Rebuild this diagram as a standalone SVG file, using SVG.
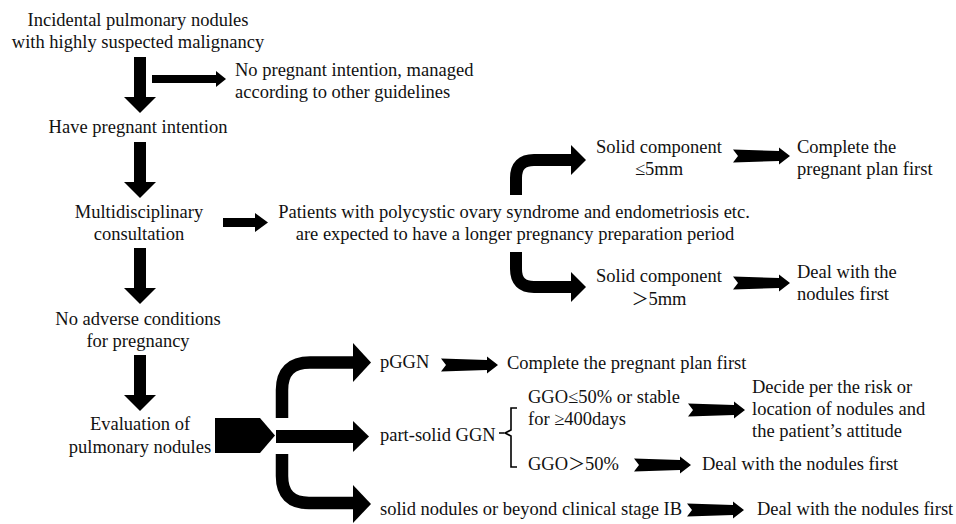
<svg xmlns="http://www.w3.org/2000/svg" width="956" height="524" viewBox="0 0 956 524">
<style>
text{font-family:"Liberation Serif","Times New Roman",serif;font-size:18.5px;fill:#111;}
.c{text-anchor:middle;}
.j{font-family:"Noto Sans CJK SC",sans-serif;font-size:17px;}
.f{fill:#000;stroke:none;}
.s{fill:none;stroke:#000;}
</style>
<defs>
<polygon id="chev" points="0,-6.5 46,-5 46,-8.5 57,0 46,8.5 46,5 0,6.5 5,0"/>
<g id="down"><polygon points="-6,0 6,0 6,40 16,40 0,56 -16,40 -6,40"/></g>
</defs>
<rect width="956" height="524" fill="#fff"/>
<g id="connectors" class="f">
<use href="#down" x="140" y="57"/>
<use href="#down" x="140" y="142"/>
<use href="#down" x="140" y="248"/>
<use href="#down" x="140" y="355"/>
<polygon points="152,75 216,75 216,71 226,79 216,87 216,83 152,83"/>
<polygon points="223,218 255,218 255,213 268,222.5 255,232 255,227 223,227"/>
<path class="s" stroke-width="12" d="M516 195 V178 Q516 160 534 160 H572"/>
<polygon points="571,145 586,160 571,175"/>
<path class="s" stroke-width="12" d="M516 252 V269 Q516 287 534 287 H572"/>
<polygon points="571,272 586,287 571,302"/>
<use href="#chev" x="733" y="156"/>
<use href="#chev" x="733" y="283"/>
<polygon points="215,418 260,418 275,435.5 260,453 215,453"/>
<path class="s" stroke-width="12.5" d="M282 418 V390 Q282 362.5 310 362.5 H355"/>
<polygon points="353,343 371,362.5 353,382"/>
<rect x="276" y="430" width="79" height="13"/>
<polygon points="353,421 369,436.5 353,452"/>
<path class="s" stroke-width="12.5" d="M282 454 V476 Q282 503 309 503 H355"/>
<polygon points="353,485 371,504 353,523"/>
<use href="#chev" x="441" y="365"/>
<use href="#chev" x="688" y="410"/>
<use href="#chev" x="634" y="465"/>
<use href="#chev" x="687" y="510"/>
<path class="s" stroke-width="1.6" d="M499 433 H504 M517 408 H511 V430 L505 433 L511 436 V467 H517"/>
</g>
<g id="n1"><text class="c" x="138" y="26">Incidental pulmonary nodules</text><text class="c" x="138" y="48">with highly suspected malignancy</text></g>
<g id="n2"><text x="235" y="76">No pregnant intention, managed</text><text x="235" y="98">according to other guidelines</text></g>
<g id="n3"><text class="c" x="138" y="133">Have pregnant intention</text></g>
<g id="n4"><text class="c" x="139" y="218">Multidisciplinary</text><text class="c" x="139" y="240">consultation</text></g>
<g id="n5"><text class="c" x="514" y="218">Patients with polycystic ovary syndrome and endometriosis etc.</text><text class="c" x="515" y="240">are expected to have a longer pregnancy preparation period</text></g>
<g id="n6"><text class="c" x="659" y="153">Solid component</text><text class="c" x="659" y="175">≤5mm</text></g>
<g id="n7"><text x="797" y="153">Complete the</text><text x="797" y="175">pregnant plan first</text></g>
<g id="n8"><text class="c" x="659" y="282">Solid component</text><text class="c" x="659" y="305"><tspan class="j">＞</tspan>5mm</text></g>
<g id="n9"><text x="797" y="278">Deal with the</text><text x="797" y="300">nodules first</text></g>
<g id="n10"><text class="c" x="138" y="325">No adverse conditions</text><text class="c" x="138" y="347">for pregnancy</text></g>
<g id="n11"><text class="c" x="140" y="430">Evaluation of</text><text class="c" x="140" y="453">pulmonary nodules</text></g>
<g id="n12"><text x="380" y="368">pGGN</text></g>
<g id="n13"><text x="507" y="369">Complete the pregnant plan first</text></g>
<g id="n14"><text x="380" y="441">part-solid GGN</text></g>
<g id="n15"><text x="528" y="403">GGO≤50% or stable</text><text x="528" y="425">for ≥400days</text></g>
<g id="n16"><text x="752" y="393">Decide per the risk or</text><text x="752" y="415">location of nodules and</text><text x="752" y="437">the patient’s attitude</text></g>
<g id="n17"><text x="528" y="470">GGO<tspan class="j">＞</tspan>50%</text></g>
<g id="n18"><text x="702" y="470">Deal with the nodules first</text></g>
<g id="n19"><text x="380" y="515">solid nodules or beyond clinical stage IB</text></g>
<g id="n20"><text x="757" y="515">Deal with the nodules first</text></g>
</svg>
